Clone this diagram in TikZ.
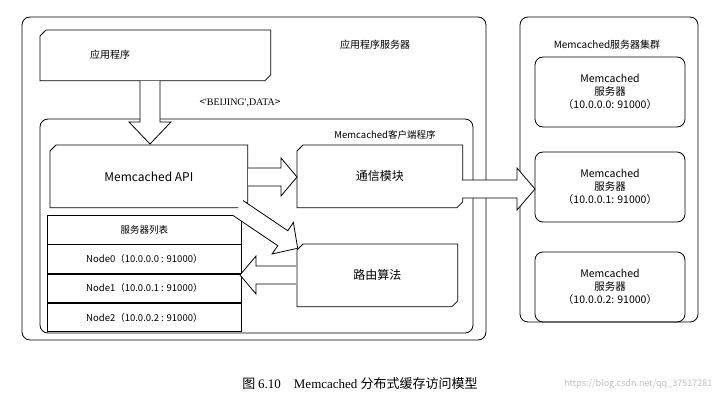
\documentclass[tikz,border=0pt]{standalone}
\usepackage{fontspec}
\setmainfont{Noto Sans CJK SC}
\newfontfamily\capfont{Liberation Serif}
\newfontfamily\capcjk{Noto Sans CJK SC}
\usetikzlibrary{calc}
% start x, start y, angle, length, shaft half width, head half width, head length
\newcommand\fatarrow[7]{%
 \begin{scope}[shift={(#1,#2)},rotate=#3]
 \draw[fill=white,line join=miter] (0,-#5) -- ({#4-#7},-#5) -- ({#4-#7},-#6) -- (#4,0) -- ({#4-#7},#6) -- ({#4-#7},#5) -- (0,#5);
 \end{scope}}
\newcommand\chambox[1]{%
 \draw ([xshift=6pt]#1.north west) -- (#1.north east) -- ([yshift=6pt]#1.south east) -- ([xshift=-6pt]#1.south east) -- (#1.south west) -- ([yshift=-6pt]#1.north west) -- cycle;}
\begin{document}
\begin{tikzpicture}[x=1pt,y=-1pt,line width=0.8pt,
 cham/.style={inner sep=0pt},
 rbox/.style={draw,rounded corners=8pt},
 cell/.style={draw,minimum width=194pt,minimum height=28.5pt,inner sep=0pt,font=\fontsize{9.5}{10}\selectfont}]
\useasboundingbox (0,0) rectangle (720,401);
\draw[rbox] (22,17) rectangle (486,340);
\node[font=\fontsize{10}{12}\selectfont] (srvlab) at (375,45) {应用程序服务器};
\node[cham,minimum width=230pt,minimum height=50pt,anchor=north west] (app) at (40,30) {};
\chambox{app}
\node[font=\fontsize{10}{12}\selectfont] (apptxt) at (110,55) {应用程序};
\draw[rbox] (40,119) rectangle (473,333);
\node[font=\fontsize{9.5}{12}\selectfont] (clab) at (385,135) {Memcached客户端程序};
\node[cham,minimum width=197pt,minimum height=62pt,anchor=north west,font=\fontsize{12}{14}\selectfont] (api) at (50,145) {Memcached API};
\node[cham,minimum width=165pt,minimum height=62pt,anchor=north west,font=\fontsize{12}{14}\selectfont] (comm) at (297,145) {通信模块};
\node[cham,minimum width=160pt,minimum height=62pt,anchor=north west,font=\fontsize{12}{14}\selectfont] (route) at (297,244) {路由算法};
\chambox{api}\chambox{comm}\chambox{route}
\node[cell,anchor=north west] (t0) at (47,215) {服务器列表};
\node[cell,anchor=north] (t1) at (t0.south) {Node0（10.0.0.0 : 91000）};
\node[cell,anchor=north] (t2) at (t1.south) {Node1（10.0.0.1 : 91000）};
\node[cell,anchor=north] (t3) at (t2.south) {Node2（10.0.0.2 : 91000）};
\fatarrow{150}{81}{-90}{63}{10}{21}{22}
\node[font=\fontsize{10}{12}\selectfont] (data) at (240,103) {<{\capfont 'BEIJING',DATA}>};
\fatarrow{248}{177}{0}{49}{9}{19}{16}
\fatarrow{238}{208}{-34}{72}{9}{19}{18}
\fatarrow{296}{275}{180}{56}{9}{19}{16}
\draw[rbox] (520,17) rectangle (698,322);
\node[font=\fontsize{10}{12}\selectfont] (clu) at (607,45) {Memcached服务器集群};
\foreach \n/\y/\ip in {s0/92/10.0.0.0,s1/187/10.0.0.1,s2/287/10.0.0.2}{
 \node[rbox,minimum width=150pt,minimum height=70pt,align=center,font=\fontsize{10.5}{13}\selectfont] (\n) at (610,\y) {Memcached\\服务器\\（\ip : 91000）};
}
\fatarrow{462}{189}{0}{73}{9}{21}{18}
\node[font=\fontsize{13}{15}\selectfont] (cap) at (360,384) {\capcjk 图 \capfont 6.10\quad Memcached \capcjk 分布式缓存访问模型};
\node[text=black!25,font=\fontsize{9}{10}\selectfont,anchor=east] (wm) at (716,384) {https://blog.csdn.net/qq\_37517281};
\end{tikzpicture}
\end{document}
